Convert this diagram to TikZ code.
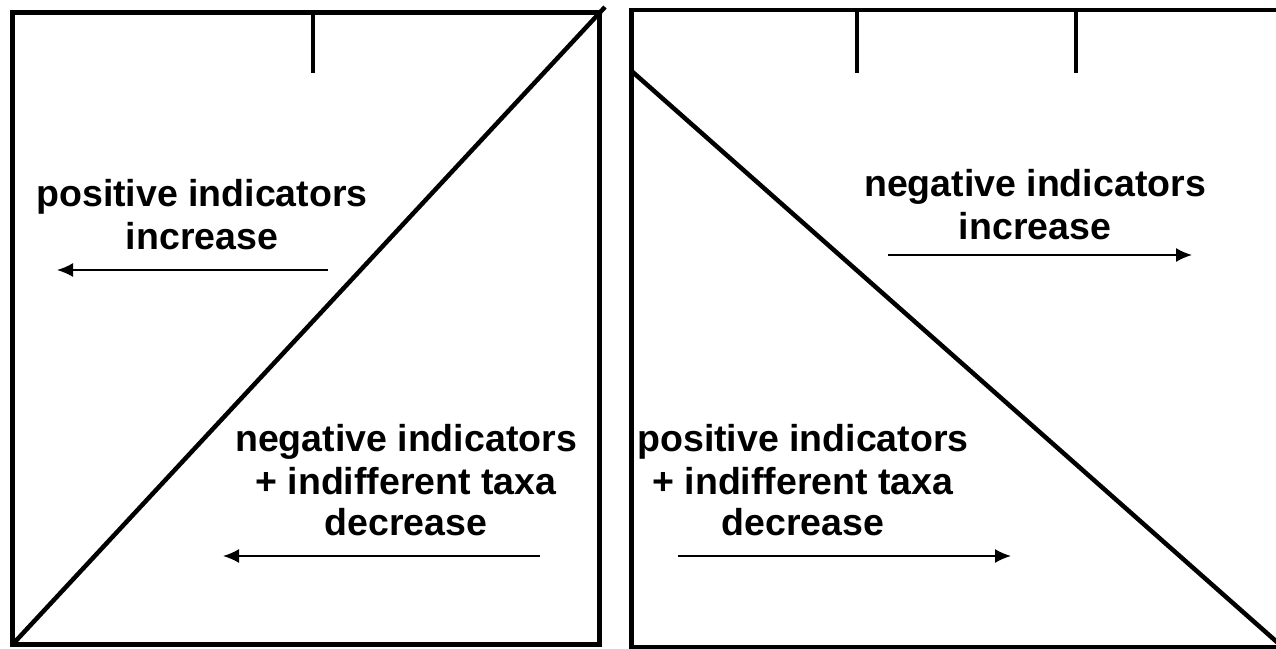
\documentclass[tikz,border=0pt]{standalone}
\usepackage{fontspec}
\setmainfont[Ligatures=NoCommon]{Liberation Sans}
\usetikzlibrary{arrows.meta}
\tikzset{
  frame/.style={line width=4.5pt},
  tick/.style={line width=4pt},
  arr/.style={line width=1.8pt,-{Latex[length=16pt,width=14pt]}},
  lbl/.style={anchor=base,inner sep=0pt,font=\bfseries\fontsize{37.5}{43}\selectfont}
}
\begin{document}
\begin{tikzpicture}[x=1pt,y=-1pt]
\useasboundingbox (0,0) rectangle (1276,648);
% left panel
\coordinate (L1) at (12.5,12.5);
\coordinate (L2) at (599.5,12.5);
\coordinate (L3) at (599.5,644.5);
\coordinate (L4) at (12.5,644.5);
\draw[frame] (L1) -- (L2) -- (L3) -- (L4) -- cycle;
\coordinate (LD) at (605,7);
\draw[frame] (L4) -- (LD);
\coordinate (LT1) at (313,12.5);
\coordinate (LT2) at (313,73);
\draw[tick] (LT1) -- (LT2);
% right panel
\coordinate (R1) at (1295,10);
\coordinate (R2) at (631.5,10);
\coordinate (R3) at (631.5,647);
\coordinate (R4) at (1295,647);
\draw[frame] (R1) -- (R2) -- (R3) -- (R4);
\coordinate (RD1) at (631.5,71);
\coordinate (RD2) at (1295,658);
\draw[frame] (RD1) -- (RD2);
\coordinate (RT1) at (857,10);
\coordinate (RT2) at (857,73);
\draw[tick] (RT1) -- (RT2);
\coordinate (RT3) at (1076,10);
\coordinate (RT4) at (1076,73);
\draw[tick] (RT3) -- (RT4);
% texts
\node[lbl] (a1) at (202,206) {positive indicators};
\node[lbl] (a2) at (202,249) {increase};
\node[lbl] (b1) at (406,451) {negative indicators};
\node[lbl] (b2) at (406,494) {+ indif\kern0pt f\kern0pt erent taxa};
\node[lbl] (b3) at (406,535) {decrease};
\node[lbl] (c1) at (1035,196) {negative indicators};
\node[lbl] (c2) at (1035,239) {increase};
\node[lbl] (d1) at (803,451) {positive indicators};
\node[lbl] (d2) at (803,494) {+ indif\kern0pt f\kern0pt erent taxa};
\node[lbl] (d3) at (803,535) {decrease};
% arrows
\coordinate (A1s) at (328,270); \coordinate (A1e) at (57,270);
\draw[arr] (A1s) -- (A1e);
\coordinate (A2s) at (540,556); \coordinate (A2e) at (223,556);
\draw[arr] (A2s) -- (A2e);
\coordinate (A3s) at (888,255); \coordinate (A3e) at (1192,255);
\draw[arr] (A3s) -- (A3e);
\coordinate (A4s) at (678,556); \coordinate (A4e) at (1011,556);
\draw[arr] (A4s) -- (A4e);
\end{tikzpicture}
\end{document}
